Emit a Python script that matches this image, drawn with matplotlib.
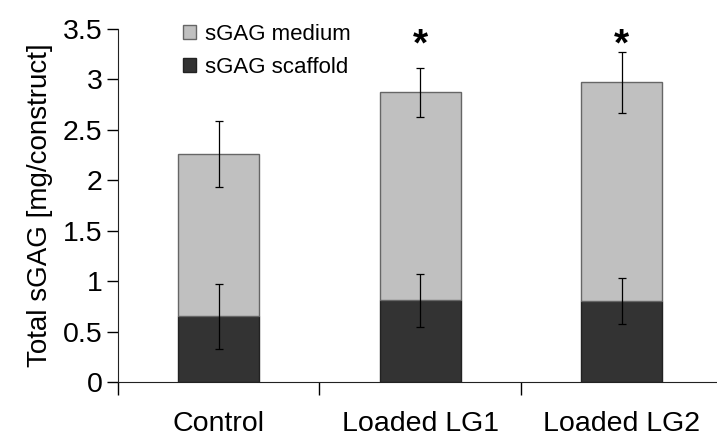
import matplotlib.pyplot as plt
from matplotlib.ticker import FixedLocator, FuncFormatter

plt.rcParams['font.family'] = ['Liberation Sans', 'DejaVu Sans']

groups = ['Control', 'Loaded LG1', 'Loaded LG2']
scaffold = [0.65, 0.81, 0.80]
scaffold_err = [0.32, 0.26, 0.23]
total = [2.26, 2.87, 2.97]
total_err = [0.33, 0.245, 0.30]
medium = [t - s for t, s in zip(total, scaffold)]
significant = [False, True, True]

fig = plt.figure(figsize=(7.17, 4.38), dpi=100)
ax = fig.add_axes([0.1646, 0.1279, 0.843, 0.806])

x = list(range(len(groups)))
width = 0.4
ax.bar(x, scaffold, width, color='#333333', edgecolor='#222222', linewidth=1,
       label='sGAG scaffold', zorder=2)
ax.bar(x, medium, width, bottom=scaffold, color='#c0c0c0', edgecolor='#666666',
       linewidth=1, label='sGAG medium', zorder=2)

err_kw = dict(fmt='none', ecolor='black', elinewidth=0.9, capsize=3, capthick=0.9, zorder=3)
ax.errorbar(x, scaffold, yerr=scaffold_err, **err_kw)
ax.errorbar(x, total, yerr=total_err, **err_kw)

for xi, sig in zip(x, significant):
    if sig:
        ax.text(xi, 3.34, '*', ha='center', va='center', fontsize=28, fontweight='bold')

ax.set_xlim(-0.5, 2.5)
ax.set_ylim(0, 3.5)
ax.set_yticks([0, 0.5, 1, 1.5, 2, 2.5, 3, 3.5])
ax.yaxis.set_major_formatter(FuncFormatter(lambda v, p: f'{v:g}'))
ax.set_xticks(x)
ax.set_xticklabels(groups)
ax.xaxis.set_minor_locator(FixedLocator([-0.5, 0.5, 1.5, 2.5]))
ax.tick_params(axis='x', which='major', length=0, pad=21, labelsize=20.5)
ax.tick_params(axis='x', which='minor', length=9, width=1, direction='out')
ax.tick_params(axis='y', length=8, width=1, direction='out', labelsize=20.5, pad=3)

ax.spines['top'].set_visible(False)
ax.spines['right'].set_visible(False)
ax.spines['left'].set_color('#222222')
ax.spines['bottom'].set_color('#222222')
ax.set_ylabel('Total sGAG [mg/construct]', fontsize=20, labelpad=7)

handles, labels = ax.get_legend_handles_labels()
ax.legend(handles[::-1], labels[::-1], loc='upper left', bbox_to_anchor=(0.092, 1.04),
          frameon=False, fontsize=16, handlelength=0.6, handleheight=0.6,
          handletextpad=0.4, labelspacing=0.55, borderaxespad=0)

fig.savefig('out.png', dpi=100)
